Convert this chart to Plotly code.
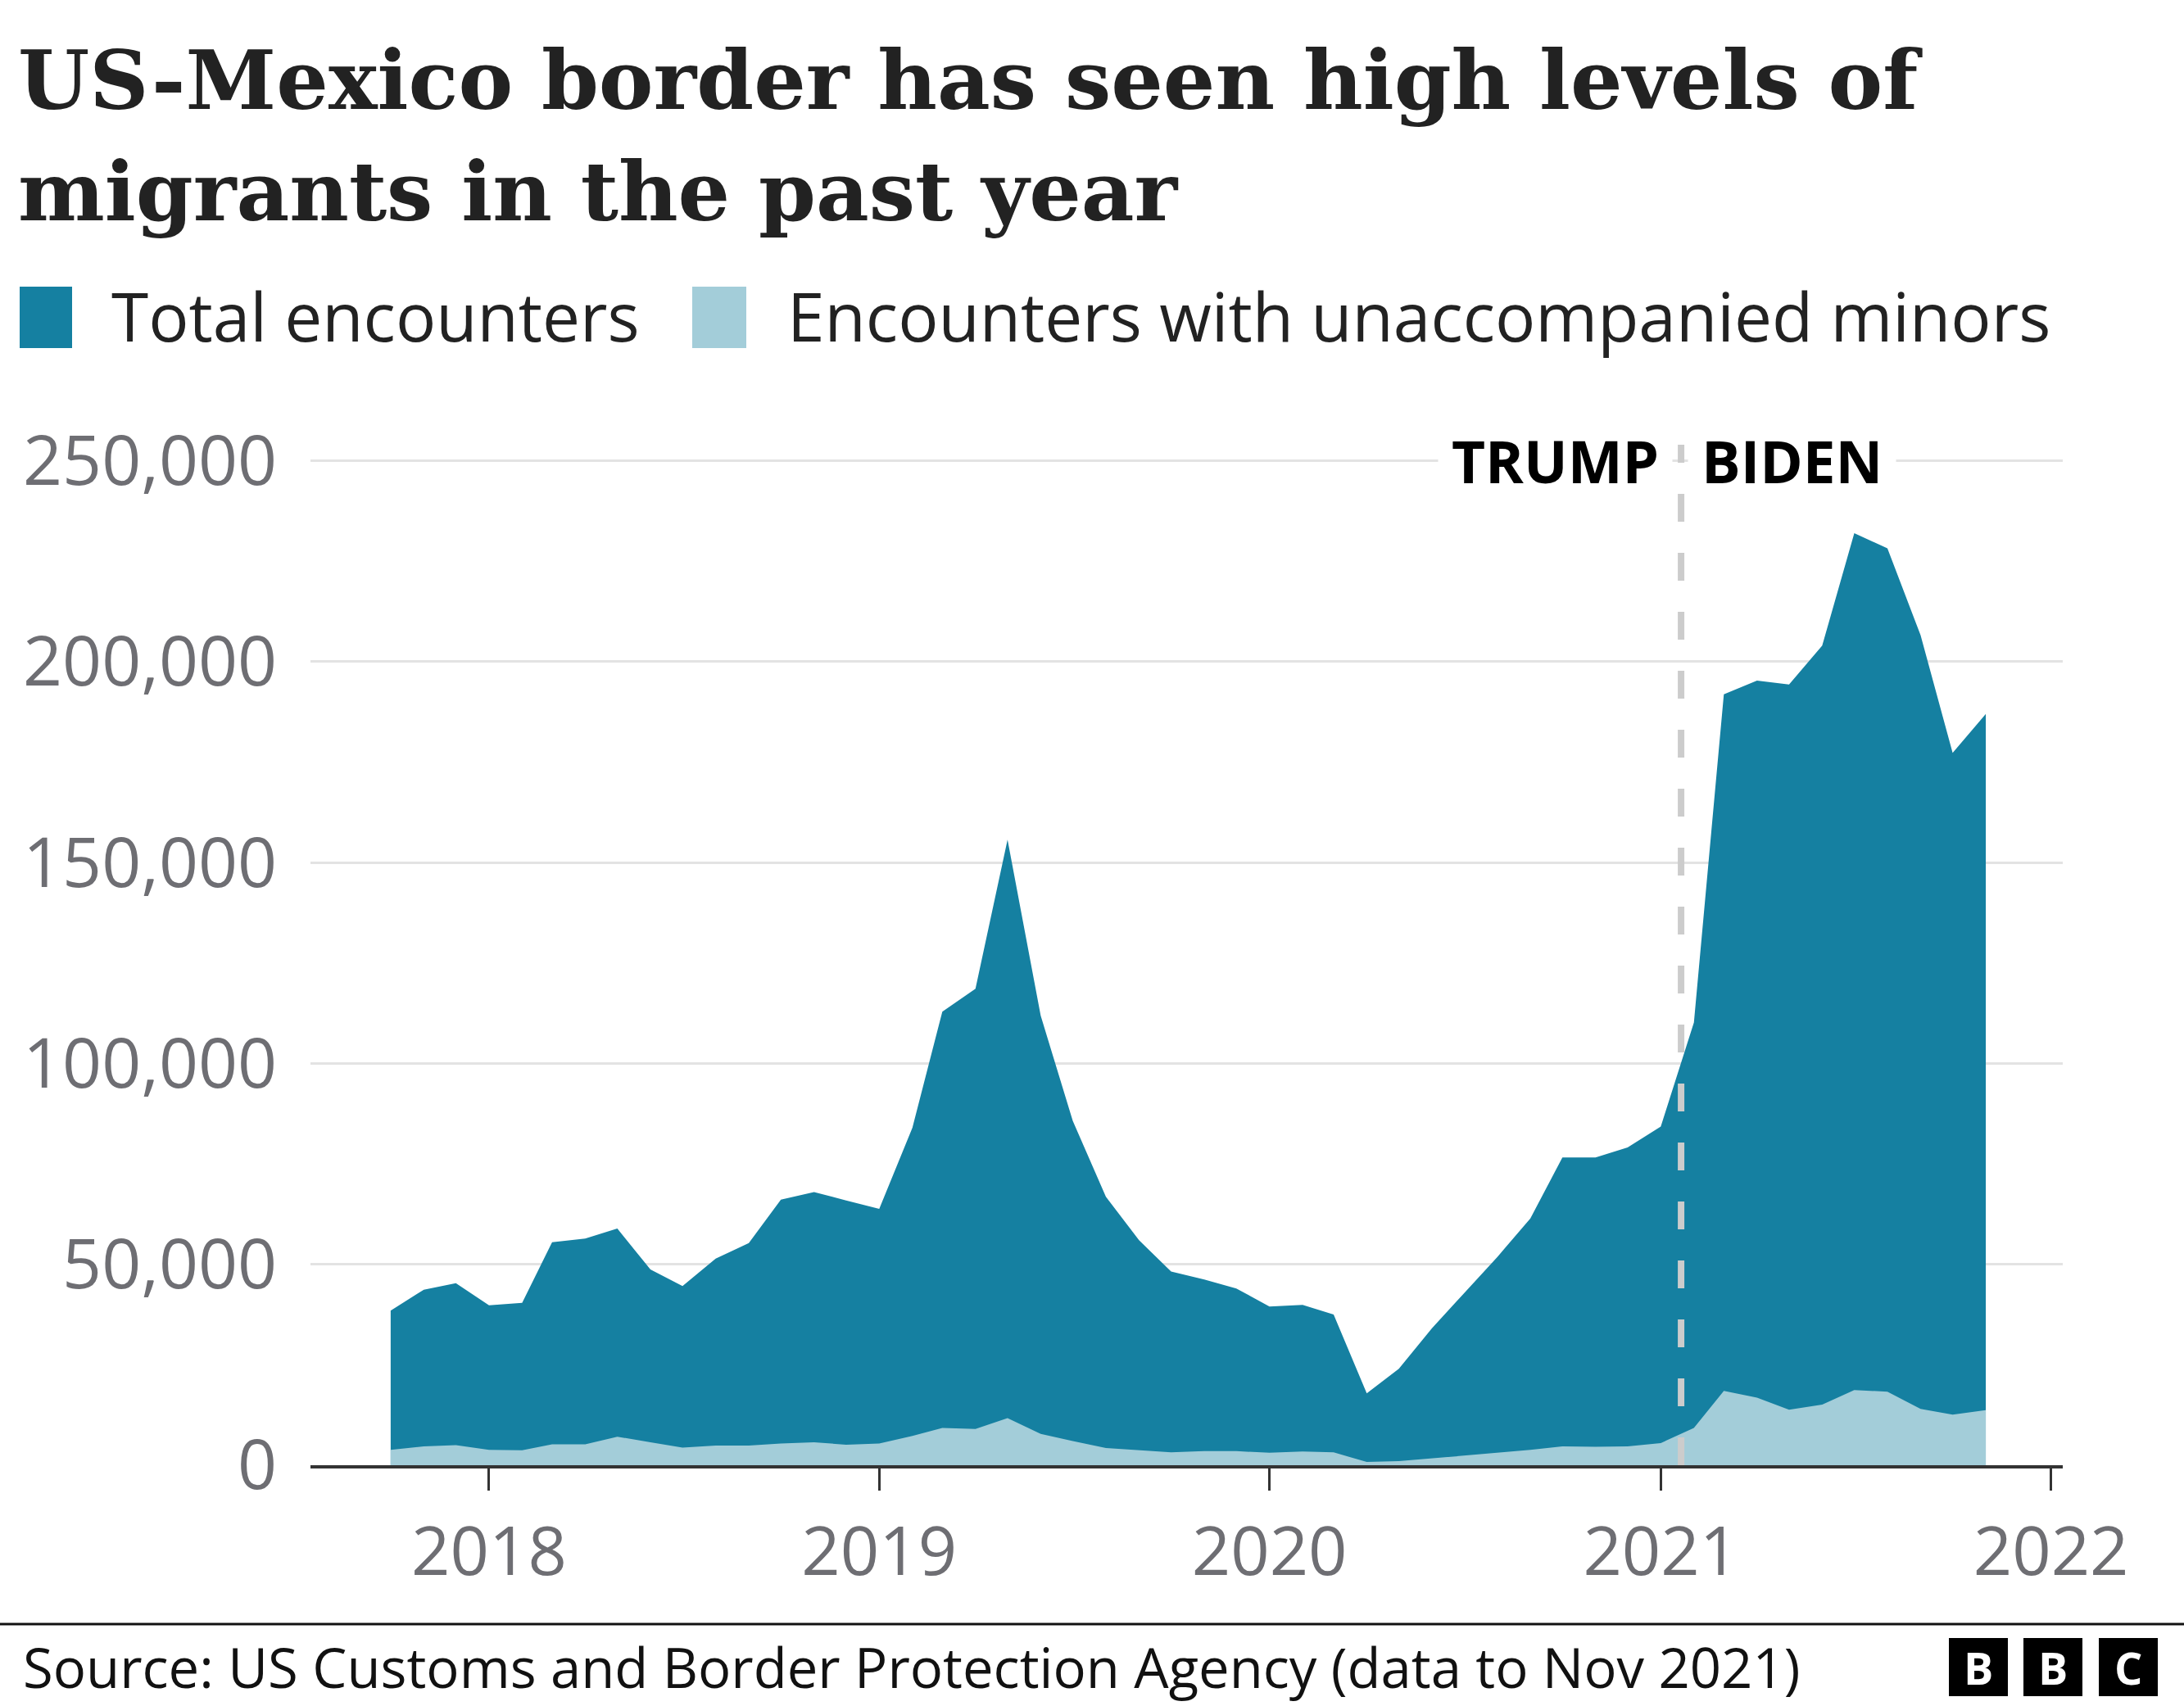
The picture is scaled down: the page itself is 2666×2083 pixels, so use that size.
import plotly.graph_objects as go

# ---------------- data ----------------
months = [
    "2017-10-01", "2017-11-01", "2017-12-01",
    "2018-01-01", "2018-02-01", "2018-03-01", "2018-04-01", "2018-05-01", "2018-06-01",
    "2018-07-01", "2018-08-01", "2018-09-01", "2018-10-01", "2018-11-01", "2018-12-01",
    "2019-01-01", "2019-02-01", "2019-03-01", "2019-04-01", "2019-05-01", "2019-06-01",
    "2019-07-01", "2019-08-01", "2019-09-01", "2019-10-01", "2019-11-01", "2019-12-01",
    "2020-01-01", "2020-02-01", "2020-03-01", "2020-04-01", "2020-05-01", "2020-06-01",
    "2020-07-01", "2020-08-01", "2020-09-01", "2020-10-01", "2020-11-01", "2020-12-01",
    "2021-01-01", "2021-02-01", "2021-03-01", "2021-04-01", "2021-05-01", "2021-06-01",
    "2021-07-01", "2021-08-01", "2021-09-01", "2021-10-01", "2021-11-01",
]

total_encounters = [
    38500, 43700, 45300,
    39800, 40400, 55500, 56400, 58900, 48700,
    44600, 51400, 55300, 66100, 68000, 65900,
    63800, 84000, 112900, 118600, 155700, 111900,
    85700, 66800, 56000, 48200, 46200, 44000,
    39500, 39900, 37500, 17900, 24000, 34100,
    42800, 51800, 61400, 76600, 76600, 79100,
    84300, 110200, 191900, 195300, 194300, 204000,
    232000, 228200, 206600, 177300, 187000,
]

unaccompanied_minors = [
    3800, 4700, 5000,
    3800, 3700, 5200, 5200, 7100, 5700,
    4400, 4900, 4900, 5400, 5700, 5100,
    5400, 7300, 9300, 9000, 11700, 7800,
    6000, 4300, 3700, 3200, 3500, 3500,
    3100, 3400, 3200, 800, 1000, 1700,
    2500, 3100, 3800, 4700, 4600, 4700,
    5500, 9300, 18500, 16800, 13800, 15100,
    18700, 18300, 14000, 12600, 13700,
]

year_ticks = ["2018-01-01", "2019-01-01", "2020-01-01", "2021-01-01", "2022-01-01"]
year_labels = ["2018", "2019", "2020", "2021", "2022"]
y_ticks = [0, 50000, 100000, 150000, 200000, 250000]
y_labels = ["0", "50,000", "100,000", "150,000", "200,000", "250,000"]

series_names = ["Total encounters", "Encounters with unaccompanied minors"]
inauguration = "2021-01-20"

title_lines = ["US-Mexico border has seen high levels of", "migrants in the past year"]
source_text = "Source: US Customs and Border Protection Agency (data to Nov 2021)"

# ---------------- styling / layout ----------------
W, H = 2666, 2083
L, R, T, B = 379, 148, 543, 294
PW = W - L - R
PH = H - T - B
BOTTOM = H - B

DARK = "#1580a1"
LIGHT = "#a3cdd9"
SANS = "Open Sans, Noto Sans, sans-serif"
SERIF = "DejaVu Serif, Liberation Serif, serif"
GREY = "#6e6e73"


def px(x):
    return (x - L) / PW


def py(y):
    return (BOTTOM - y) / PH


fig = go.Figure()
fig.add_trace(go.Scatter(
    x=months, y=total_encounters, name=series_names[0],
    mode="lines", fill="tozeroy", fillcolor=DARK,
    line=dict(color=DARK, width=0), hoverinfo="x+y",
))
fig.add_trace(go.Scatter(
    x=months, y=unaccompanied_minors, name=series_names[1],
    mode="lines", fill="tozeroy", fillcolor=LIGHT,
    line=dict(color=LIGHT, width=0), hoverinfo="x+y",
))

fig.update_layout(
    width=W, height=H,
    margin=dict(l=L, r=R, t=T, b=B, autoexpand=False),
    paper_bgcolor="white", plot_bgcolor="white",
    showlegend=False,
    font=dict(family=SANS, color="#222222"),
)

fig.update_xaxes(
    type="date",
    range=["2017-07-18", "2022-01-12"],
    tickvals=year_ticks, ticktext=year_labels,
    tickfont=dict(size=83, color=GREY, family=SANS),
    ticks="outside", ticklen=27, tickwidth=3, tickcolor="#333333",
    ticklabelstandoff=3,
    showline=True, linecolor="#333333", linewidth=4,
    showgrid=False, zeroline=False,
)
fig.update_yaxes(
    range=[0, 254000],
    tickvals=y_ticks, ticktext=y_labels,
    tickfont=dict(size=84, color=GREY, family=SANS),
    ticks="", ticklabelstandoff=40,
    showgrid=True, gridcolor="#e3e3e3", gridwidth=3,
    zeroline=False, showline=False,
)

shapes = []
# Inauguration dashed line
shapes.append(dict(
    type="line", xref="x", yref="y",
    x0=inauguration, x1=inauguration, y0=0, y1=254000,
    line=dict(color="#cccccc", width=8, dash="34px,38px"), layer="above",
))
# Legend swatches
shapes.append(dict(type="rect", xref="paper", yref="paper",
                   x0=px(24), x1=px(88), y0=py(425), y1=py(350),
                   fillcolor=DARK, line=dict(width=0)))
shapes.append(dict(type="rect", xref="paper", yref="paper",
                   x0=px(845), x1=px(911), y0=py(425), y1=py(350),
                   fillcolor=LIGHT, line=dict(width=0)))
# Footer rule
shapes.append(dict(type="line", xref="paper", yref="paper",
                   x0=px(0), x1=px(W), y0=py(1983), y1=py(1983),
                   line=dict(color="#111111", width=3)))
# BBC blocks
for x0 in (2379, 2470, 2562):
    shapes.append(dict(type="rect", xref="paper", yref="paper",
                       x0=px(x0), x1=px(x0 + 72), y0=py(2071), y1=py(2000),
                       fillcolor="#000000", line=dict(width=0)))
fig.update_layout(shapes=shapes)

ann = []
# Title
ann.append(dict(text=f"<b>{title_lines[0]}</b>", xref="paper", yref="paper",
                x=px(20), y=py(98), xanchor="left", yanchor="middle", showarrow=False,
                font=dict(family=SERIF, size=100, color="#222222")))
ann.append(dict(text=f"<b>{title_lines[1]}</b>", xref="paper", yref="paper",
                x=px(20), y=py(234), xanchor="left", yanchor="middle", showarrow=False,
                font=dict(family=SERIF, size=100, color="#222222")))
# Legend texts
ann.append(dict(text=series_names[0], xref="paper", yref="paper",
                x=px(134), y=py(385), xanchor="left", yanchor="middle", showarrow=False,
                font=dict(family=SANS, size=82, color="#222222")))
ann.append(dict(text=series_names[1], xref="paper", yref="paper",
                x=px(959), y=py(385), xanchor="left", yanchor="middle", showarrow=False,
                font=dict(family=SANS, size=82, color="#222222")))
# TRUMP / BIDEN labels
ann.append(dict(text="<b>TRUMP</b>", xref="x", yref="y", x=inauguration, y=250000,
                xanchor="right", yanchor="middle", xshift=-10, showarrow=False,
                bgcolor="white", borderpad=16,
                font=dict(family=SANS, size=71, color="#000000")))
ann.append(dict(text="<b>BIDEN</b>", xref="x", yref="y", x=inauguration, y=250000,
                xanchor="left", yanchor="middle", xshift=8, showarrow=False,
                bgcolor="white", borderpad=16,
                font=dict(family=SANS, size=71, color="#000000")))
# Source
ann.append(dict(text=source_text, xref="paper", yref="paper",
                x=px(26), y=py(2035), xanchor="left", yanchor="middle", showarrow=False,
                font=dict(family=SANS, size=67, color="#111111")))
# BBC letters
for x0, letter in zip((2379, 2470, 2562), ("B", "B", "C")):
    ann.append(dict(text=f"<b>{letter}</b>", xref="paper", yref="paper",
                    x=px(x0 + 36), y=py(2036), xanchor="center", yanchor="middle",
                    showarrow=False, font=dict(family=SANS, size=54, color="white")))
fig.update_layout(annotations=ann)

fig.write_html("out.html", post_script="document.body.style.margin='0';",
               config={"displayModeBar": False})
